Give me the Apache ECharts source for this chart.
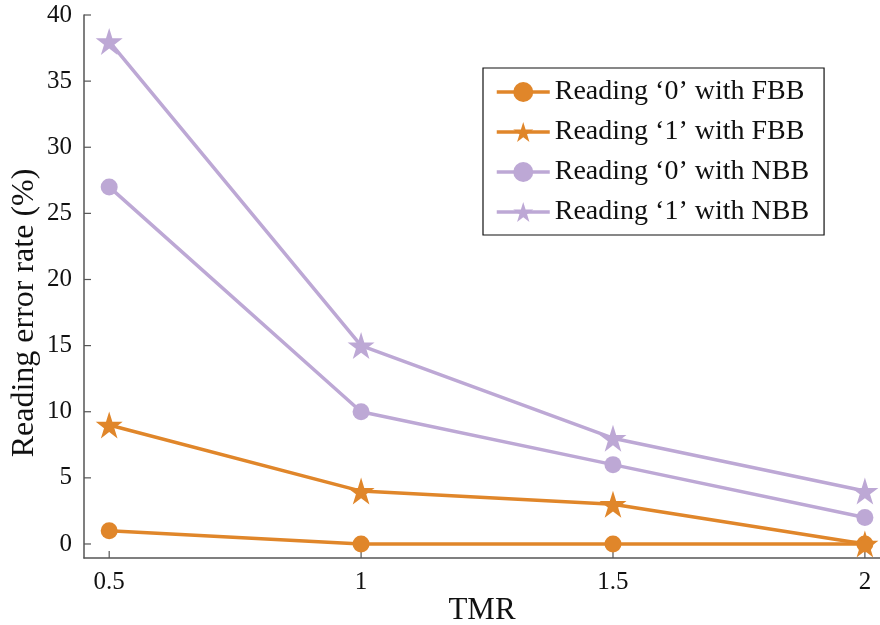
<!DOCTYPE html>
<html><head><meta charset="utf-8">
<script src="https://cdn.jsdelivr.net/npm/echarts@6/dist/echarts.min.js"></script>
<style>html,body{margin:0;padding:0;background:#fff}#c{width:880px;height:625px}</style>
</head><body><div id="c"></div>
<script>
const tmr = [0.5, 1, 1.5, 2];
const fbb0 = [1, 0, 0, 0];
const fbb1 = [9, 4, 3, 0];
const nbb0 = [27, 10, 6, 2];
const nbb1 = [38, 15, 8, 4];
const names = ["Reading \u20180\u2019 with FBB", "Reading \u20181\u2019 with FBB", "Reading \u20180\u2019 with NBB", "Reading \u20181\u2019 with NBB"];
const xTicks = [0.5, 1, 1.5, 2];
const yTitle = 'Reading error rate (%)';
const xTitle = 'TMR';

const ORANGE = '#E0862A';
const PURPLE = '#BDA8D5';
const STAR = 'path://M50,0 L61.2,34.5 L97.6,34.5 L68.2,55.9 L79.4,90.5 L50,69.1 L20.6,90.5 L31.8,55.9 L2.4,34.5 L38.8,34.5 Z';
const FONT = 'Liberation Serif';

function mk(name, vals, color, symbol, size) {
  return {
    name: name, type: 'line',
    data: tmr.map((x, i) => [x, vals[i]]),
    symbol: symbol, symbolSize: size, showSymbol: true,
    lineStyle: { color: color, width: 3.5 },
    itemStyle: { color: color },
    emphasis: { disabled: true },
    animation: false
  };
}

const chart = echarts.init(document.getElementById('c'));
chart.setOption({
  backgroundColor: '#fff',
  textStyle: { fontFamily: FONT },
  grid: { left: 84, right: 0, top: 15, bottom: 67, containLabel: false, outerBoundsMode: 'none' },
  xAxis: {
    type: 'value', min: 0.45, max: 2.03,
    interval: 0.5,
    name: xTitle, nameLocation: 'middle', nameGap: 37,
    nameTextStyle: { fontFamily: FONT, fontSize: 31, color: '#111', verticalAlign: 'top' },
    axisLine: { show: true, onZero: false, lineStyle: { color: '#555', width: 1.5 } },
    axisTick: { show: false },
    splitLine: { show: false },
    axisLabel: { show: false }
  },
  yAxis: {
    type: 'value', min: -1.06, max: 40,
    axisLine: { show: true, onZero: false, lineStyle: { color: '#555', width: 1.5 } },
    axisTick: { show: false },
    splitLine: { show: false },
    axisLabel: { show: false }
  },
  legend: {
    left: 483, top: 68, orient: 'vertical',
    backgroundColor: '#fff',
    borderColor: '#111', borderWidth: 1.2,
    padding: [10, 15, 9, 12],
    itemGap: 12, itemWidth: 53, itemHeight: 25,
    lineStyle: { width: 3.5 },
    textStyle: { fontFamily: FONT, fontSize: 28, color: '#111' },
    data: names,
    selectedMode: false
  },
  series: [
    mk(names[0], fbb0, ORANGE, 'circle', 17),
    mk(names[1], fbb1, ORANGE, STAR, 27),
    mk(names[2], nbb0, PURPLE, 'circle', 17),
    mk(names[3], nbb1, PURPLE, STAR, 27)
  ]
});

function drawTicks() {
  const g = [];
  const y0 = chart.convertToPixel({ yAxisIndex: 0 }, -1.06);
  const x0 = chart.convertToPixel({ xAxisIndex: 0 }, 0.45);
  xTicks.forEach(v => {
    const px = chart.convertToPixel({ xAxisIndex: 0 }, v);
    g.push({ type: 'line', shape: { x1: px, y1: y0, x2: px, y2: y0 - 7 }, style: { stroke: '#555', lineWidth: 1.2 }, silent: true });
    g.push({ type: 'text', x: px, y: y0 + 12, style: { text: String(v), font: '25px "' + FONT + '"', fill: '#111', align: 'center', verticalAlign: 'top' }, silent: true });
  });
  for (let v = 0; v <= 40; v += 5) {
    const py = chart.convertToPixel({ yAxisIndex: 0 }, v);
    g.push({ type: 'line', shape: { x1: x0, y1: py, x2: x0 + 7, y2: py }, style: { stroke: '#555', lineWidth: 1.2 }, silent: true });
    g.push({ type: 'text', x: x0 - 12, y: py, style: { text: String(v), font: '25px "' + FONT + '"', fill: '#111', align: 'right', verticalAlign: 'middle' }, silent: true });
  }
  g.push({ type: 'text', x: 25, y: 313, rotation: Math.PI / 2, style: { text: yTitle, font: '32px "' + FONT + '"', fill: '#111', align: 'center', verticalAlign: 'middle' }, silent: true });
  chart.setOption({ graphic: g });
}
drawTicks();
</script></body></html>
